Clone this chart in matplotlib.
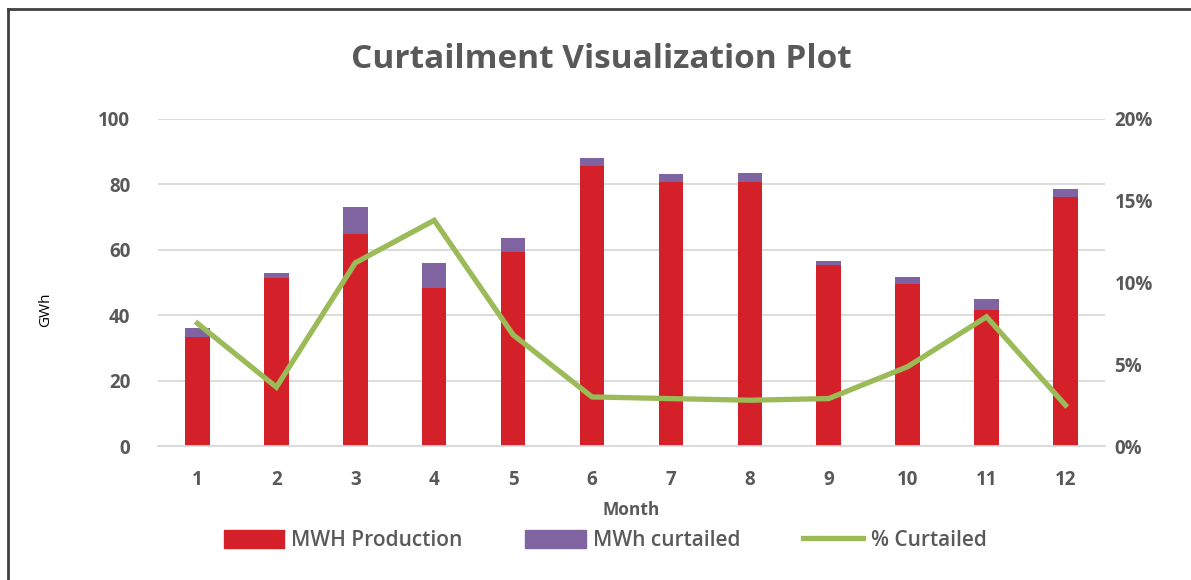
import matplotlib
matplotlib.use("Agg")
import matplotlib.pyplot as plt
from matplotlib.lines import Line2D
from matplotlib.patches import Patch
from matplotlib.ticker import FuncFormatter

plt.rcParams['font.family'] = ['Open Sans', 'DejaVu Sans']

months = [1, 2, 3, 4, 5, 6, 7, 8, 9, 10, 11, 12]
production = [33.2, 51.5, 64.8, 48.3, 59.2, 85.6, 80.7, 80.7, 55.3, 49.5, 41.6, 76.2]
curtailed = [2.8, 1.5, 8.4, 7.8, 4.3, 2.6, 2.4, 2.7, 1.4, 2.3, 3.4, 2.3]
pct_curtailed = [7.5, 3.6, 11.2, 13.8, 6.8, 3.0, 2.9, 2.8, 2.9, 4.85, 7.9, 2.5]

red = '#D42029'
purple = '#8064A2'
green = '#9BBB59'
grey = '#595959'

fig = plt.figure(figsize=(11.91, 5.80), dpi=100)
ax = fig.add_axes([0.1327, 0.231, 0.795, 0.564])
ax2 = ax.twinx()

ax.bar(months, production, width=0.31, color=red, zorder=2)
ax.bar(months, curtailed, width=0.31, bottom=production, color=purple, zorder=2)
ax2.plot(months, pct_curtailed, color=green, lw=3.8, solid_joinstyle='miter')

ax.set_xlim(0.5, 12.5)
ax.set_ylim(0, 100)
ax.set_yticks([0, 20, 40, 60, 80, 100])
ax2.set_ylim(0, 20)
ax2.set_yticks([0, 5, 10, 15, 20])
ax2.yaxis.set_major_formatter(FuncFormatter(lambda v, p: '%d%%' % v))
ax.set_xticks(months)

ax.grid(axis='y', color='#D9D9D9', lw=1.3, zorder=0)
ax.set_axisbelow(True)
for a in (ax, ax2):
    for s in a.spines.values():
        s.set_visible(False)
    a.tick_params(length=0, labelsize=13.5, labelcolor=grey)
    for lab in a.get_xticklabels() + a.get_yticklabels():
        lab.set_fontweight('bold')
ax.spines['bottom'].set_visible(True)
ax.spines['bottom'].set_color('#D9D9D9')
ax.spines['bottom'].set_linewidth(1.3)
ax.tick_params(axis='y', pad=20)
ax2.tick_params(axis='y', pad=7)
ax.tick_params(axis='x', pad=17)

ax.set_xlabel('Month', fontsize=12.5, color=grey, fontweight='bold', labelpad=8)
fig.text(0.038, 0.466, 'GWh', rotation=90, fontsize=11, color='black', ha='center', va='center')

fig.suptitle('Curtailment Visualization Plot', x=0.505, y=0.925, fontsize=24,
             color=grey, fontweight='bold')

handles = [Patch(color=red, label='MWH Production'),
           Patch(color=purple, label='MWh curtailed'),
           Line2D([0], [0], color=green, lw=3.8, label='% Curtailed')]
fig.legend(handles=handles, loc='center', bbox_to_anchor=(0.508, 0.068), ncol=3,
           frameon=False, handlelength=2.9, handleheight=0.9,
           handletextpad=0.35, columnspacing=3.0,
           prop={'size': 15, 'weight': 'semibold'}, labelcolor=grey)

# frame lines on left and top like the source screenshot
fig.add_artist(Line2D([0.0065, 0.0065], [0, 0.985], color='#404040', lw=2))
fig.add_artist(Line2D([0.0065, 1.0], [0.985, 0.985], color='#404040', lw=2))

fig.savefig('out.png', dpi=100, facecolor='white')
